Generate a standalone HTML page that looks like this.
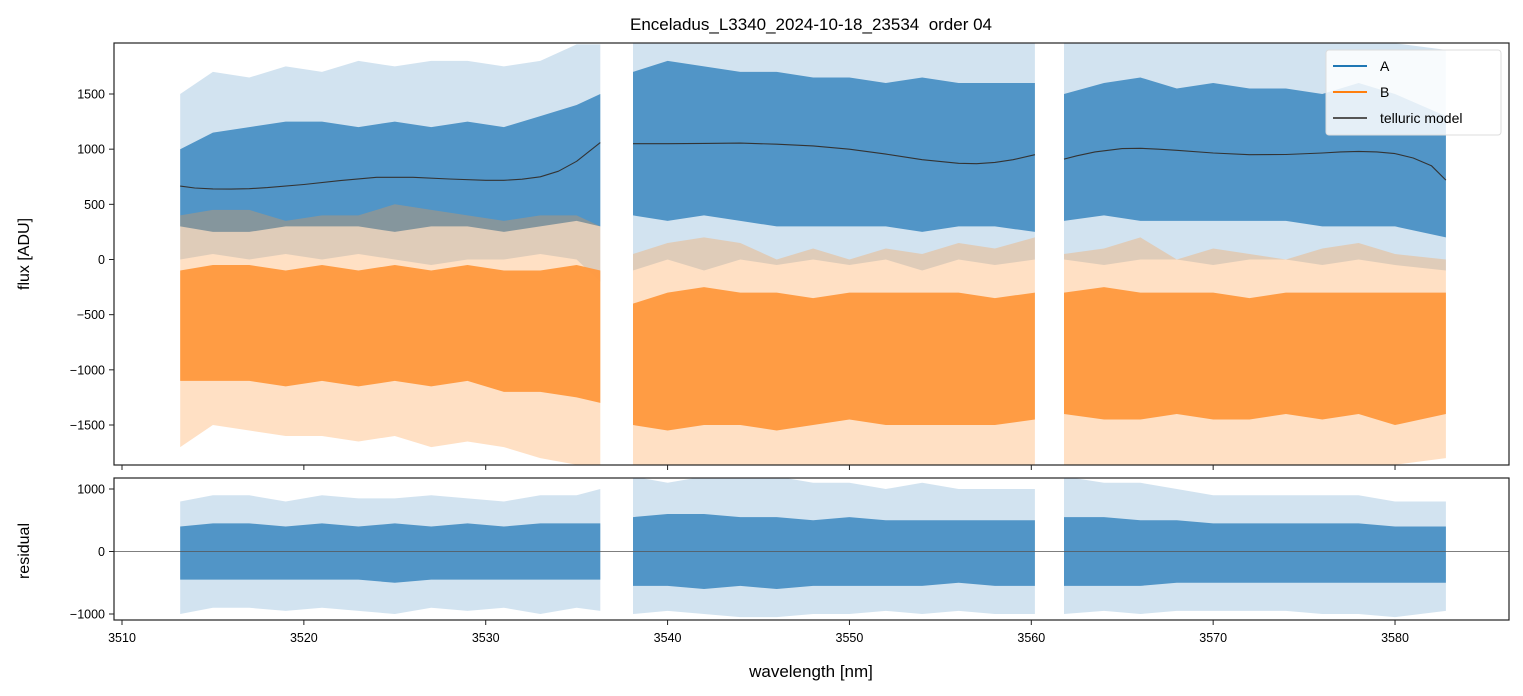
<!DOCTYPE html>
<html><head><meta charset="utf-8">
<style>
body{margin:0;background:#fff;}
svg{display:block;font-family:"Liberation Sans","DejaVu Sans",sans-serif;}
</style></head>
<body>
<svg id="chart" width="1523" height="696" viewBox="0 0 1523 696" xmlns="http://www.w3.org/2000/svg">
<rect width="1523" height="696" fill="#fff"/>
<defs>
<clipPath id="clipTop"><rect x="114" y="43" width="1395" height="422"/></clipPath>
<clipPath id="clipBot"><rect x="114" y="478" width="1395" height="142"/></clipPath>
</defs>
<text x="811" y="30" font-size="17" text-anchor="middle" style="white-space:pre">Enceladus_L3340_2024-10-18_23534  order 04</text>
<g id="topPanel" clip-path="url(#clipTop)"></g>
<g id="botPanel" clip-path="url(#clipBot)"></g>
<g id="axesGroup"></g>
<text transform="translate(29,254) rotate(-90)" font-size="16" text-anchor="middle">flux [ADU]</text>
<text transform="translate(29,551) rotate(-90)" font-size="16" text-anchor="middle">residual</text>
<text x="811" y="677" font-size="17" text-anchor="middle">wavelength [nm]</text>
<g>
<rect x="1326" y="50" width="175" height="85" rx="3" fill="#fff" fill-opacity="0.85" stroke="#ddd"/>
<line x1="1333" y1="66" x2="1367" y2="66" stroke="#1f77b4" stroke-width="2"/>
<text x="1380" y="71" font-size="14">A</text>
<line x1="1333" y1="92" x2="1367" y2="92" stroke="#ff7f0e" stroke-width="2"/>
<text x="1380" y="97" font-size="14">B</text>
<line x1="1333" y1="118" x2="1367" y2="118" stroke="#555" stroke-width="2"/>
<text x="1380" y="123" font-size="14">telluric model</text>
</g>
</svg>
<script>
// segments (nm)
const segStart=[3513.2,3538.1,3561.8];
const segEnd=[3536.3,3560.2,3582.8];
// envelope knots per segment (nm)
const knots=[[3513.2,3515,3517,3519,3521,3523,3525,3527,3529,3531,3533,3535,3536.3],
 [3538.1,3540,3542,3544,3546,3548,3550,3552,3554,3556,3558,3560.2],
 [3561.8,3564,3566,3568,3570,3572,3574,3576,3578,3580,3582.8]];
// A core/spike envelopes
const aCoreHi=[[1000,1150,1200,1250,1250,1200,1250,1200,1250,1200,1300,1400,1500],[1700,1800,1750,1700,1700,1650,1650,1600,1650,1600,1600,1600],[1500,1600,1650,1550,1600,1550,1550,1500,1600,1500,1300]];
const aCoreLo=[[300,250,250,300,300,300,250,300,300,250,300,350,300],[400,350,400,350,300,300,300,300,250,300,300,250],[350,400,350,350,350,350,350,300,300,300,200]];
const aSpkHi=[[1500,1700,1650,1750,1700,1800,1750,1800,1800,1750,1800,1950,1950],[1960,1960,1960,1960,1960,1960,1960,1960,1960,1960,1960,1960],[1960,1960,1960,1960,1960,1960,1960,1960,1960,1960,1900]];
const aSpkLo=[[0,50,0,50,0,50,0,-50,0,0,50,0,-200],[-100,0,-100,0,-50,0,-50,0,-100,0,-50,0],[0,-50,0,0,-50,0,0,-50,0,-50,-100]];
// B envelopes
const bCoreHi=[[-100,-50,-50,-100,-50,-100,-50,-100,-50,-100,-100,-50,-100],[-400,-300,-250,-300,-300,-350,-300,-300,-300,-300,-350,-300],[-300,-250,-300,-300,-300,-350,-300,-300,-300,-300,-300]];
const bCoreLo=[[-1100,-1100,-1100,-1150,-1100,-1150,-1100,-1150,-1100,-1200,-1200,-1250,-1300],[-1500,-1550,-1500,-1500,-1550,-1500,-1450,-1500,-1500,-1500,-1500,-1450],[-1400,-1450,-1450,-1400,-1450,-1450,-1400,-1450,-1400,-1500,-1400]];
const bSpkHi=[[400,450,450,350,400,400,500,450,400,350,400,400,300],[50,150,200,150,0,100,0,100,50,150,100,200],[50,100,200,0,100,50,0,100,150,50,0]];
const bSpkLo=[[-1700,-1500,-1550,-1600,-1600,-1650,-1600,-1700,-1650,-1700,-1800,-1860,-1860],[-1860,-1860,-1860,-1860,-1860,-1860,-1860,-1860,-1860,-1860,-1860,-1860],[-1860,-1860,-1860,-1860,-1860,-1860,-1860,-1860,-1860,-1860,-1800]];
// residual envelopes
const rCoreHi=[[400,450,450,400,450,400,450,400,450,400,450,450,450],[550,600,600,550,550,500,550,500,500,500,500,500],[550,550,500,500,450,450,450,450,450,400,400]];
const rCoreLo=[[-450,-450,-450,-450,-450,-450,-500,-450,-450,-450,-450,-450,-450],[-550,-550,-600,-550,-600,-550,-550,-550,-550,-500,-550,-550],[-550,-550,-550,-500,-500,-500,-500,-500,-500,-500,-500]];
const rSpkHi=[[800,900,900,800,900,850,850,900,850,800,900,900,1000],[1200,1100,1200,1200,1200,1100,1100,1000,1100,1000,1000,1000],[1200,1100,1100,1000,900,900,900,900,900,800,800]];
const rSpkLo=[[-1000,-900,-900,-950,-900,-950,-1000,-900,-950,-900,-1000,-900,-950],[-1000,-950,-1000,-1050,-1050,-1000,-1000,-950,-1000,-950,-1000,-1000],[-1000,-950,-1000,-950,-950,-950,-950,-1000,-1000,-1050,-950]];
// telluric model
const modelX=[[3513.2,3514,3515,3516,3517,3518,3520,3522,3524,3526,3528,3530,3531,3532,3533,3534,3535,3536.3],[3538.1,3540,3542,3544,3546,3548,3550,3552,3554,3556,3557,3558,3559,3560.2],[3561.8,3562.5,3563.5,3565,3566,3567,3568,3570,3572,3574,3576,3577,3578,3579,3580,3581,3582,3582.8]];
const modelY=[[665,648,640,638,642,652,680,715,745,745,730,718,718,728,750,800,890,1060],[1050,1050,1052,1055,1045,1030,1000,955,905,872,868,880,905,950],[910,940,975,1005,1008,1000,990,965,950,952,965,975,980,975,960,920,850,720]];
const xTicks=[3510,3520,3530,3540,3550,3560,3570,3580];
const yTicksTop=[1500,1000,500,0,-500,-1000,-1500];
const yTicksBot=[1000,0,-1000];

const NS="http://www.w3.org/2000/svg";
const xS=w=>122+(w-3510)*18.186;
const yT=v=>259.5-v*0.11033;
const yB=v=>551.5-v*0.0625;
function mk(tag,attrs,parent){const e=document.createElementNS(NS,tag);for(const k in attrs)e.setAttribute(k,attrs[k]);parent.appendChild(e);return e;}
const gTop=document.getElementById('topPanel'),gBot=document.getElementById('botPanel'),gAxes=document.getElementById('axesGroup');
function band(parent,ys,hi,lo,color,op,name){
 for(let s=0;s<3;s++){
  let pts=[];
  knots[s].forEach((k,i)=>pts.push(xS(k).toFixed(1)+','+ys(hi[s][i]).toFixed(1)));
  for(let i=knots[s].length-1;i>=0;i--)pts.push(xS(knots[s][i]).toFixed(1)+','+ys(lo[s][i]).toFixed(1));
  const p=mk('polygon',{points:pts.join(' '),fill:color,'fill-opacity':op},parent);
  
  
 }
}
band(gTop,yT,aSpkHi,aSpkLo,'#4a90c4',0.25,'series-a-spikes');
band(gTop,yT,aCoreHi,aCoreLo,'#4a90c4',0.95,'series-a');
band(gTop,yT,bSpkHi,bSpkLo,'#ff983d',0.3,'series-b-spikes');
band(gTop,yT,bCoreHi,bCoreLo,'#ff983d',0.95,'series-b');
for(let s=0;s<3;s++){
 const pts=modelX[s].map((x,i)=>xS(x).toFixed(1)+','+yT(modelY[s][i]).toFixed(1)).join(' ');
 const l=mk('polyline',{points:pts,fill:'none',stroke:'#333','stroke-width':1.1,'stroke-linejoin':'round'},gTop);
 
 
}
band(gBot,yB,rSpkHi,rSpkLo,'#4a90c4',0.25,'residual-spikes');
band(gBot,yB,rCoreHi,rCoreLo,'#4a90c4',0.95,'residual');
const z=mk('line',{x1:114,x2:1509,y1:yB(0),y2:yB(0),stroke:'#555','stroke-width':0.8},gBot);


const f1=mk('rect',{x:114,y:43,width:1395,height:422,fill:'none',stroke:'#222','stroke-width':1.2},gAxes);


const f2=mk('rect',{x:114,y:478,width:1395,height:142,fill:'none',stroke:'#222','stroke-width':1.2},gAxes);


xTicks.forEach(t=>{
 const x=xS(t);
 mk('line',{x1:x,x2:x,y1:465,y2:470,stroke:'#222'},gAxes);
 mk('line',{x1:x,x2:x,y1:620,y2:625,stroke:'#222'},gAxes);
 const tx=mk('text',{x:x,y:642,'font-size':12.5,'text-anchor':'middle'},gAxes);
 tx.textContent=t;
 
 
});
yTicksTop.forEach(t=>{
 const y=yT(t);
 mk('line',{x1:109,x2:114,y1:y,y2:y,stroke:'#222'},gAxes);
 const tx=mk('text',{x:105,y:y+4.5,'font-size':12.5,'text-anchor':'end'},gAxes);
 tx.textContent=t<0?'\u2212'+Math.abs(t):t;
 
 
});
yTicksBot.forEach(t=>{
 const y=yB(t);
 mk('line',{x1:109,x2:114,y1:y,y2:y,stroke:'#222'},gAxes);
 const tx=mk('text',{x:105,y:y+4.5,'font-size':12.5,'text-anchor':'end'},gAxes);
 tx.textContent=t<0?'\u2212'+Math.abs(t):t;
 
 
});
</script>
</body></html>
